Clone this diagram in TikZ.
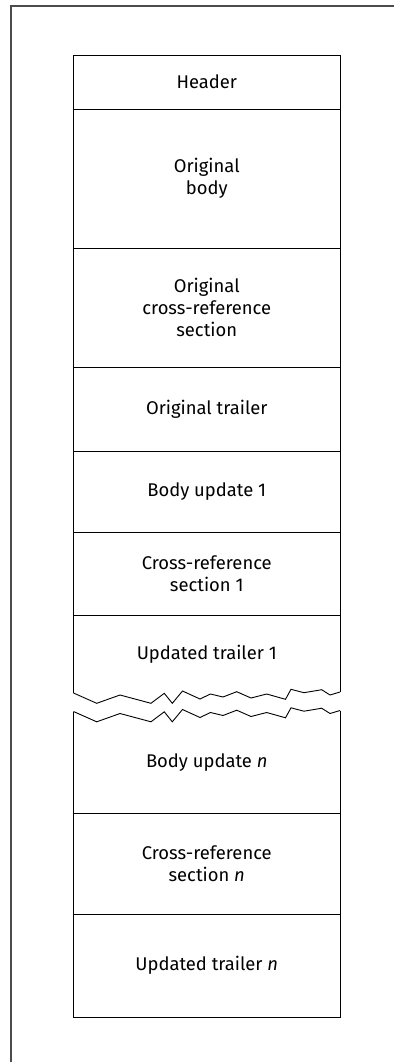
\documentclass[tikz,border=0pt]{standalone}
\usepackage{fontspec}
\setmainfont{Fira Sans}
\usetikzlibrary{positioning}

\begin{document}
\begin{tikzpicture}[x=1pt, y=1pt,
    part/.style={draw, line width=0.9pt, minimum width=266.5pt, outer sep=0pt, inner sep=0pt, align=center, font=\fontsize{18.4}{22}\selectfont},
    bare/.style={part, draw=none},
    edge/.style={line width=0.9pt},
    frame/.style={line width=1.8pt, black!70},
    tear/.pic={\draw[edge] (0,0) -- (23.2,-10.3) -- (46.5,-2) -- (77.5,-10.3) -- (90.8,-0.3) -- (98.8,-10.3) -- (109,2) -- (126.5,-6) -- (137,-1) -- (149.5,-4) -- (163.2,1.3) -- (177.5,-5) -- (193.2,-1) -- (212,-6.3) -- (217.5,3.7) -- (230.5,0.3) -- (248.2,3.3) -- (256.5,-2) -- (266.5,1);}]
    \useasboundingbox (0,0) rectangle (394,-1062);
    \draw[frame] (11,-1062) -- (11,-6) -- (394,-6);

    \node (header) [part, minimum height=54pt, anchor=north west] at (73.5,-55) {Header};
    \node (obody) [part, minimum height=139pt, below=0pt of header] {Original\\body};
    \node (oxref) [part, minimum height=119pt, below=0pt of obody] {Original\\cross-reference\\section};
    \node (otrailer) [part, minimum height=84pt, below=0pt of oxref] {Original trailer};
    \node (bodyone) [part, minimum height=81pt, below=0pt of otrailer] {Body update 1};
    \node (xrefone) [part, minimum height=83pt, below=0pt of bodyone] {Cross-reference\\section 1};
    \node (trailerone) [bare, minimum height=78pt, below=0pt of xrefone] {Updated trailer 1};
    \node (bodyn) [bare, minimum height=101.5pt, below=18.5pt of trailerone] {Body update \textit{n}};
    \node (xrefn) [part, minimum height=101pt, below=0pt of bodyn] {Cross-reference\\section \textit{n}};
    \node (trailern) [part, minimum height=103pt, below=0pt of xrefn] {Updated trailer \textit{n}};

    \draw[edge] (trailerone.north west) -- (trailerone.south west);
    \draw[edge] (trailerone.north east) -- ([yshift=1pt]trailerone.south east);
    \pic at (trailerone.south west) {tear};
    \pic at (bodyn.north west) {tear};
    \draw[edge] ([yshift=1pt]bodyn.north east) -- (bodyn.south east);
    \draw[edge] (bodyn.north west) -- (bodyn.south west);
\end{tikzpicture}
\end{document}
